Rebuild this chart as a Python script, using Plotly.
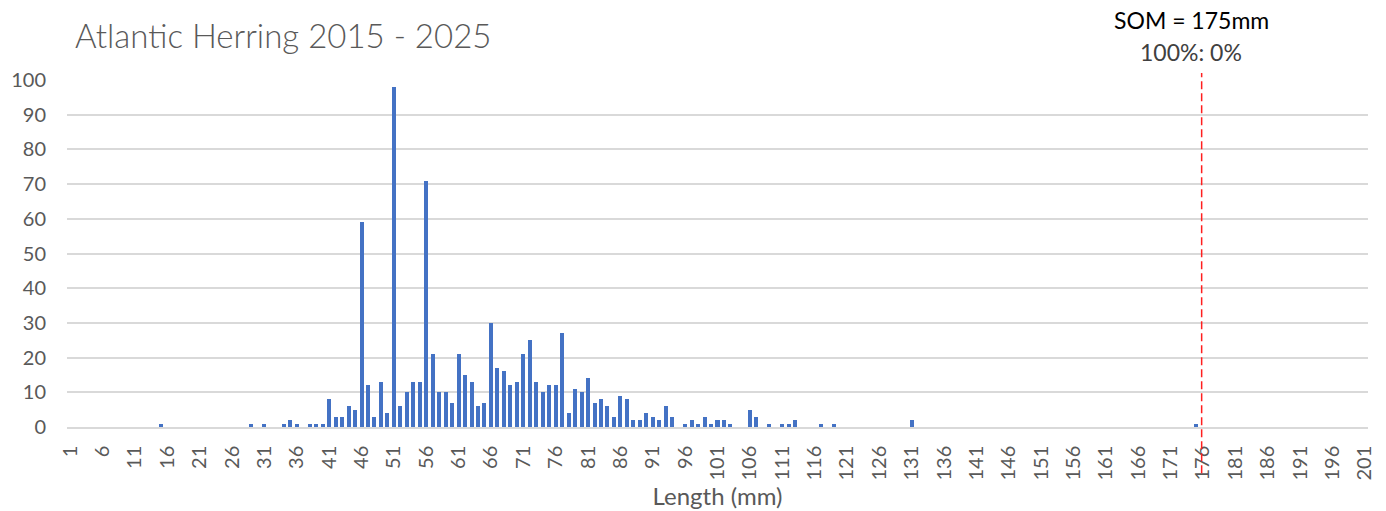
import plotly.graph_objects as go

# Length (mm) categories with non-zero counts, and their counts
lengths = [15, 29, 31, 34, 35, 36, 38, 39, 40, 41, 42, 43, 44, 45, 46, 47, 48, 49, 50,
           51, 52, 53, 54, 55, 56, 57, 58, 59, 60, 61, 62, 63, 64, 65, 66, 67, 68, 69, 70,
           71, 72, 73, 74, 75, 76, 77, 78, 79, 80, 81, 82, 83, 84, 85, 86, 87, 88, 89, 90,
           91, 92, 93, 94, 96, 97, 98, 99, 100, 101, 102, 103, 106, 107, 109, 111, 112, 113,
           117, 119, 131, 175]
counts = [1, 1, 1, 1, 2, 1, 1, 1, 1, 8, 3, 3, 6, 5, 59, 12, 3, 13, 4,
          98, 6, 10, 13, 13, 71, 21, 10, 10, 7, 21, 15, 13, 6, 7, 30, 17, 16, 12, 13,
          21, 25, 13, 10, 12, 12, 27, 4, 11, 10, 14, 7, 8, 6, 3, 9, 8, 2, 2, 4,
          3, 2, 6, 3, 1, 2, 1, 3, 1, 2, 2, 1, 5, 3, 1, 1, 1, 2,
          1, 1, 2, 1]

tick_vals = list(range(1, 202, 5))
tick_text = [str(v) for v in tick_vals]
y_ticks = list(range(0, 101, 10))

SOM_LINE_X = 175.8
title_text = "Atlantic Herring 2015 - 2025"
som_text = "SOM = 175mm"
ratio_text = "100%: 0%"

FONT = "Lato, 'Open Sans', sans-serif"
GRAY = "#595959"

fig = go.Figure()
fig.add_trace(go.Bar(
    x=lengths, y=counts,
    marker=dict(color="#4472C4", line=dict(width=0)),
    width=0.62,
    hoverinfo="x+y",
))

fig.add_shape(type="line", xref="x", yref="paper",
              x0=SOM_LINE_X, x1=SOM_LINE_X, y0=-0.133, y1=1.02,
              line=dict(color="#FF1F1F", width=1.5, dash="8px,4px"))

fig.add_annotation(text=som_text, xref="paper", yref="paper", x=0.864, y=1.173,
                   showarrow=False, xanchor="center", yanchor="middle",
                   font=dict(family=FONT, size=23, color="#000000"))
fig.add_annotation(text=ratio_text, xref="paper", yref="paper", x=0.864, y=1.081,
                   showarrow=False, xanchor="center", yanchor="middle",
                   font=dict(family=FONT, size=23, color="#404040"))

fig.update_layout(
    width=1386, height=511,
    margin=dict(l=67, r=18, t=80, b=84),
    paper_bgcolor="white", plot_bgcolor="white",
    showlegend=False,
    bargap=0,
    title=dict(text=title_text, x=75/1386, xanchor="left", xref="container",
               y=1 - 36/511, yanchor="middle",
               font=dict(family=FONT, size=33, color=GRAY, weight=300)),
    font=dict(family=FONT, color=GRAY),
)

fig.update_xaxes(
    range=[0.5, 201.5], automargin=False,
    tickmode="array", tickvals=tick_vals, ticktext=tick_text,
    tickangle=-90,
    tickfont=dict(family=FONT, size=20, color=GRAY),
    showgrid=False, zeroline=False,
    showline=True, linecolor="#D9D9D9", linewidth=1.5,
    ticks="", ticklabelstandoff=9,
    title=dict(text="Length (mm)", font=dict(family=FONT, size=24, color=GRAY), standoff=6),
)
fig.update_yaxes(
    range=[0, 100], automargin=False,
    tickmode="array", tickvals=y_ticks,
    tickfont=dict(family=FONT, size=20, color=GRAY),
    showgrid=True, gridcolor="#D9D9D9", gridwidth=1.5,
    zeroline=False, showline=False, ticks="",
    ticklabelstandoff=20,
)

fig.write_html("out.html")
